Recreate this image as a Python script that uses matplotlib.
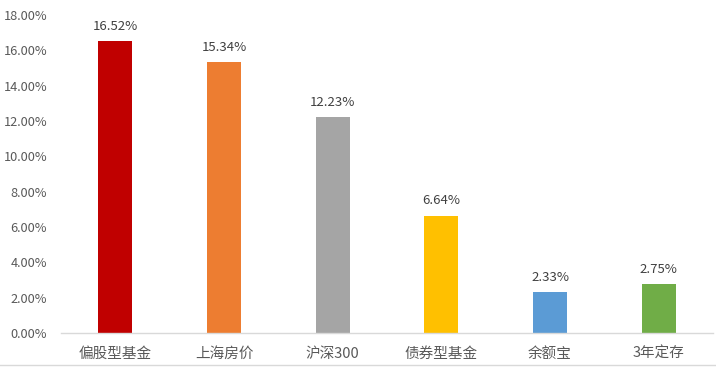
import matplotlib.pyplot as plt
from matplotlib.lines import Line2D

plt.rcParams['font.family'] = ['Noto Sans CJK SC', 'DejaVu Sans']

# 数据
categories = ["偏股型基金", "上海房价", "沪深300", "债券型基金", "余额宝", "3年定存"]
returns = [16.52, 15.34, 12.23, 6.64, 2.33, 2.75]
colors = ["#C00000", "#ED7D31", "#A5A5A5", "#FFC000", "#5B9BD5", "#70AD47"]
y_ticks = [0, 2, 4, 6, 8, 10, 12, 14, 16, 18]

fig = plt.figure(figsize=(7.16, 3.67), dpi=100)
ax = fig.add_axes([0.0852, 0.0926, 0.9106, 0.8664])

x = range(len(categories))
bars = ax.bar(x, returns, width=0.313, color=colors)

# 数值标签
for b, v in zip(bars, returns):
    ax.annotate(f"{v:.2f}%", (b.get_x() + b.get_width() / 2, v),
                xytext=(0, 6), textcoords="offset points",
                ha="center", va="bottom", fontsize=9.5, color="#404040")

ax.set_xlim(-0.5, len(categories) - 0.5)
ax.set_ylim(0, 18)
ax.set_yticks(y_ticks)
ax.set_yticklabels([f"{t:.2f}%" for t in y_ticks], fontsize=9.2, color="#595959")
ax.set_xticks(list(x))
ax.set_xticklabels(categories, fontsize=10.5, color="#595959")
ax.tick_params(length=0)
ax.tick_params(axis="x", pad=10)
ax.tick_params(axis="y", pad=10)

for s in ["top", "right", "left"]:
    ax.spines[s].set_visible(False)
ax.spines["bottom"].set_color("#D9D9D9")
ax.spines["bottom"].set_linewidth(1)

# 图表底部边框
fig.add_artist(Line2D([0, 1], [0.006, 0.006], transform=fig.transFigure,
                      color="#D9D9D9", linewidth=1))

fig.savefig("out.png", dpi=100, facecolor="white")
